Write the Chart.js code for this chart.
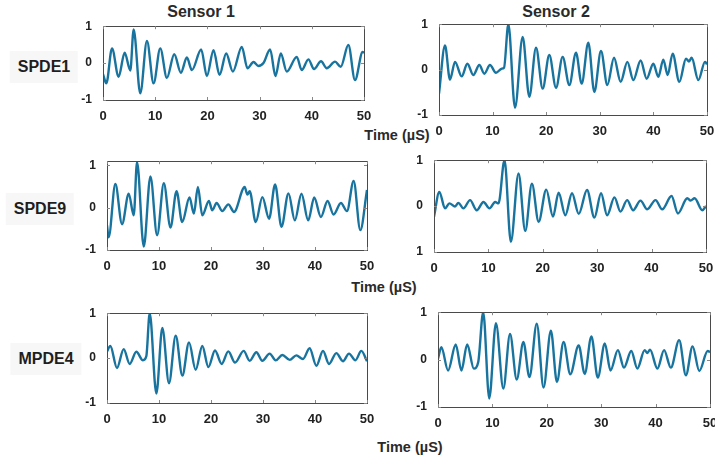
<!DOCTYPE html>
<html>
<head>
<meta charset="utf-8">
<script src="https://cdn.jsdelivr.net/npm/chart.js@4/dist/chart.umd.min.js"></script>
<style>
  body { margin:0; width:715px; height:459px; overflow:hidden; background:#fff; font-family:Arial, "Liberation Sans", sans-serif; }
  canvas { position:absolute; }
  .t { position:absolute; font-weight:bold; color:#2a2a2a; white-space:nowrap; transform:translate(-50%,-50%); }
  .row { position:absolute; font-weight:bold; font-size:16px; color:#1e1e1e; background:#f7f7f7; padding:7px 8px; transform:translate(-50%,-50%); }
</style>
</head>
<body>
<div class="t" style="left:201px;top:12px;font-size:16px">Sensor 1</div>
<div class="t" style="left:556px;top:12px;font-size:16px">Sensor 2</div>
<div class="row" style="left:44px;top:67px">SPDE1</div>
<div class="row" style="left:40px;top:209px">SPDE9</div>
<div class="row" style="left:46px;top:359px">MPDE4</div>
<div class="t" style="left:397px;top:135px;font-size:14.5px">Time (µS)</div>
<div class="t" style="left:384px;top:287px;font-size:14.5px">Time (µS)</div>
<div class="t" style="left:410px;top:447px;font-size:14.5px">Time (µS)</div>

<canvas id="p1"></canvas>
<canvas id="p2"></canvas>
<canvas id="p3"></canvas>
<canvas id="p4"></canvas>
<canvas id="p5"></canvas>
<canvas id="p6"></canvas>

<script>
// time ticks (µS) and amplitude ticks
const timeTicks = [0, 10, 20, 30, 40, 50];
const ampTicks = [-1, 0, 1];

// SPDE1 - sensor 1
const spde1S1X = [0, 0.64, 1.72, 2.99, 4.15, 5.23, 5.87, 7.14, 8.42, 9.69, 10.97, 12.24, 13.65, 14.92, 16.07, 17.03, 18.81, 19.9, 21.17, 22.32, 23.6, 24.87, 26.59, 27.68, 28.83, 29.78, 30.74, 32.02, 33.04, 34.06, 35.2, 37.12, 38.07, 39.35, 40.43, 41.77, 42.86, 44.45, 45.54, 47.0, 48.28, 49.74, 50];
const spde1S1Y = [-0.3, -0.55, 0.4, -0.37, 0.28, -0.2, 0.91, -0.82, 0.6, -0.55, 0.4, -0.4, 0.24, -0.26, 0.15, -0.19, 0.37, -0.35, 0.35, -0.32, 0.26, -0.23, 0.44, -0.14, 0.03, -0.08, 0.0, 0.37, -0.35, 0.26, -0.23, 0.17, -0.19, 0.1, -0.16, 0.05, -0.14, 0.04, -0.1, 0.49, -0.46, 0.3, 0.28];

// SPDE1 - sensor 2
const spde1S2X = [0, 1.12, 2.05, 2.99, 4.23, 5.29, 6.41, 7.52, 8.46, 9.51, 10.63, 11.69, 12.13, 12.94, 14.18, 15.61, 16.85, 18.1, 19.34, 20.58, 21.83, 23.07, 24.32, 25.56, 26.62, 27.86, 28.98, 30.22, 31.41, 32.65, 33.89, 35.14, 36.26, 37.62, 38.74, 39.99, 40.92, 41.85, 42.66, 43.59, 44.84, 46.08, 46.64, 47.14, 48.38, 49.63, 50];
const spde1S2Y = [-0.53, 0.53, -0.22, 0.17, -0.15, 0.13, -0.12, 0.1, -0.09, 0.1, -0.07, 0.02, 0.04, 1.0, -0.84, 0.72, -0.6, 0.48, -0.42, 0.32, -0.4, 0.28, -0.34, 0.37, -0.31, 0.59, -0.49, 0.41, -0.34, 0.26, -0.27, 0.17, -0.23, 0.2, -0.2, 0.13, -0.16, 0.22, -0.12, 0.35, -0.27, 0.24, 0.18, 0.26, -0.23, 0.17, 0.12];

// SPDE9 - sensor 1
const spde9S1X = [0, 0.32, 1.61, 2.89, 4.18, 5.14, 5.78, 7.07, 8.35, 9.64, 10.93, 12.21, 13.37, 14.46, 15.87, 16.71, 17.48, 18.32, 19.6, 20.24, 21.08, 22.17, 23.33, 24.42, 26.48, 26.99, 27.44, 28.6, 29.88, 31.17, 32.33, 33.55, 34.9, 36.12, 37.4, 38.69, 39.85, 41.13, 42.42, 43.57, 44.99, 46.14, 47.43, 48.71, 50];
const spde9S1Y = [-0.42, -0.7, 0.56, -0.39, 0.33, -0.18, 1.08, -0.92, 0.74, -0.65, 0.58, -0.47, 0.39, -0.34, 0.24, -0.14, 0.49, -0.18, 0.16, -0.06, 0.11, -0.08, 0.08, -0.1, 0.49, 0.31, 0.39, -0.34, 0.25, -0.26, 0.55, -0.45, 0.34, -0.3, 0.33, -0.3, 0.24, -0.22, 0.16, -0.16, 0.11, -0.08, 0.63, -0.53, 0.42];

// SPDE9 - sensor 2
const spde9S2X = [0, 0.98, 2.03, 2.83, 3.87, 4.48, 5.41, 6.63, 7.86, 9.09, 10.2, 11.24, 11.86, 12.96, 14.13, 15.54, 16.77, 18.0, 19.23, 20.64, 21.87, 22.91, 24.14, 25.37, 26.6, 28.13, 29.48, 30.71, 31.82, 33.17, 34.28, 35.5, 36.61, 37.96, 39.19, 40.72, 41.95, 43.67, 44.84, 46.56, 47.17, 47.91, 49.32, 50];
const spde9S2Y = [-0.23, 0.31, -0.05, 0.06, -0.01, 0.07, -0.05, 0.13, -0.09, 0.09, -0.05, 0.09, 0.06, 1.0, -0.78, 0.71, -0.54, 0.49, -0.34, 0.36, -0.23, 0.29, -0.2, 0.28, -0.17, 0.35, -0.25, 0.28, -0.2, 0.19, -0.12, 0.13, -0.09, 0.12, -0.07, 0.13, -0.07, 0.22, -0.16, 0.17, 0.12, 0.17, -0.09, 0.0];

// MPDE4 - sensor 1
const mpde4S1X = [0, 0.64, 1.92, 3.21, 4.36, 5.64, 6.92, 7.56, 8.21, 9.49, 10.64, 11.92, 13.21, 14.49, 15.77, 17.05, 18.33, 19.49, 20.77, 22.05, 23.33, 24.62, 26.28, 27.44, 28.72, 29.87, 31.28, 32.44, 33.72, 35.13, 36.41, 37.69, 38.97, 40.26, 41.54, 42.69, 44.1, 45.38, 46.54, 47.76, 48.91, 50];
const mpde4S1Y = [0.15, 0.27, -0.22, 0.2, -0.13, 0.14, -0.05, 0.04, 1.0, -0.79, 0.67, -0.56, 0.5, -0.39, 0.35, -0.26, 0.27, -0.2, 0.17, -0.13, 0.15, -0.1, 0.16, -0.06, 0.13, -0.06, 0.1, -0.05, 0.07, -0.04, 0.06, -0.02, 0.22, -0.17, 0.16, -0.13, 0.11, -0.07, 0.1, -0.05, 0.16, -0.07];

// MPDE4 - sensor 2
const mpde4S2X = [0, 0.62, 1.85, 3.26, 4.31, 5.36, 6.59, 7.4, 8.31, 9.42, 10.65, 12.01, 13.24, 14.47, 15.7, 16.81, 18.16, 19.4, 20.75, 21.86, 23.09, 24.32, 25.86, 26.97, 28.2, 29.37, 30.67, 31.71, 33.07, 34.18, 35.53, 36.64, 37.99, 38.49, 38.98, 40.33, 41.56, 42.8, 44.33, 45.57, 46.8, 48.03, 49.57, 50];
const mpde4S2Y = [0.02, 0.26, -0.23, 0.32, -0.23, 0.32, -0.19, -0.05, 1.0, -0.82, 0.77, -0.61, 0.54, -0.42, 0.37, -0.37, 0.76, -0.59, 0.61, -0.47, 0.37, -0.31, 0.3, -0.3, 0.49, -0.38, 0.34, -0.23, 0.2, -0.17, 0.18, -0.19, 0.2, 0.14, 0.21, -0.19, 0.2, -0.17, 0.41, -0.33, 0.28, -0.24, 0.18, 0.16];

// MATLAB-like box around the plot with small inward ticks
const framePlugin = {
    id: 'frame',
    afterDatasetsDraw(chart) {
        let ctx = chart.ctx;
        let a = chart.chartArea;
        let xs = chart.scales.x, ys = chart.scales.y;
        ctx.save();
        ctx.strokeStyle = '#4a4a4a';
        ctx.lineWidth = 1;
        ctx.strokeRect(Math.round(a.left) + 0.5, Math.round(a.top) + 0.5, Math.round(a.width), Math.round(a.height));
        ctx.strokeStyle = '#888';
        ctx.beginPath();
        timeTicks.forEach(t => {
            let px = Math.round(xs.getPixelForValue(t)) + 0.5;
            ctx.moveTo(px, a.top); ctx.lineTo(px, a.top + 3);
            ctx.moveTo(px, a.bottom); ctx.lineTo(px, a.bottom - 3);
        });
        ampTicks.forEach(v => {
            let py = Math.round(ys.getPixelForValue(v)) + 0.5;
            ctx.moveTo(a.left, py); ctx.lineTo(a.left + 3, py);
            ctx.moveTo(a.right, py); ctx.lineTo(a.right - 3, py);
        });
        ctx.stroke();
        ctx.restore();
    }
};

function makePanel(id, box, xs, ys, yMin, yMax, yText) {
    let c = document.getElementById(id);
    c.width = box.w + 36;
    c.height = box.h + 34;
    c.style.left = (box.x - 22) + 'px';
    c.style.top = (box.y - 10) + 'px';

    new Chart(c.getContext('2d'), {
        type: 'line',
        data: {
            datasets: [{
                data: xs.map((x, i) => ({x: x, y: ys[i]})),
                borderColor: 'rgb(24, 116, 158)',
                borderWidth: 2.4,
                pointRadius: 0,
                cubicInterpolationMode: 'monotone',
                fill: false
            }]
        },
        options: {
            responsive: false,
            animation: false,
            layout: { padding: { top: 10, right: 14, left: 0, bottom: 0 } },
            plugins: { legend: { display: false }, tooltip: { enabled: false } },
            scales: {
                x: {
                    type: 'linear', min: 0, max: 50,
                    grid: { display: false }, border: { display: false },
                    afterBuildTicks: s => { s.ticks = timeTicks.map(v => ({value: v})); },
                    ticks: { color: '#222', padding: 1, maxRotation: 0,
                             font: { family: 'Arial', size: 13, weight: 'bold' } },
                    afterFit: s => { s.height = 24; }
                },
                y: {
                    min: yMin, max: yMax,
                    grid: { display: false }, border: { display: false },
                    afterBuildTicks: s => { s.ticks = ampTicks.map(v => ({value: v})); },
                    ticks: { color: '#222', padding: 3,
                             font: { family: 'Arial', size: 12, weight: 'bold' },
                             callback: (v, i) => yText[i] },
                    afterFit: s => { s.width = 22; }
                }
            }
        },
        plugins: [framePlugin]
    });
}

makePanel('p1', {x: 103, y: 26, w: 261, h: 74}, spde1S1X, spde1S1Y, -1, 1, ['-1', '0', '1']);
makePanel('p2', {x: 439, y: 24, w: 268, h: 91}, spde1S2X, spde1S2Y, -1, 1, ['-1', '0', '1']);
makePanel('p3', {x: 107, y: 161, w: 260, h: 89}, spde9S1X, spde9S1Y, -1, 1.1, ['-1', '0', '1']);
makePanel('p4', {x: 434, y: 160, w: 272, h: 92}, spde9S2X, spde9S2Y, -1, 1, ['1', '0', '1']);
makePanel('p5', {x: 107, y: 313, w: 260, h: 90}, mpde4S1X, mpde4S1Y, -1, 1, ['-1', '0', '1']);
makePanel('p6', {x: 438, y: 312, w: 272, h: 95}, mpde4S2X, mpde4S2Y, -1, 1, ['-1', '0', '1']);
</script>
</body>
</html>
